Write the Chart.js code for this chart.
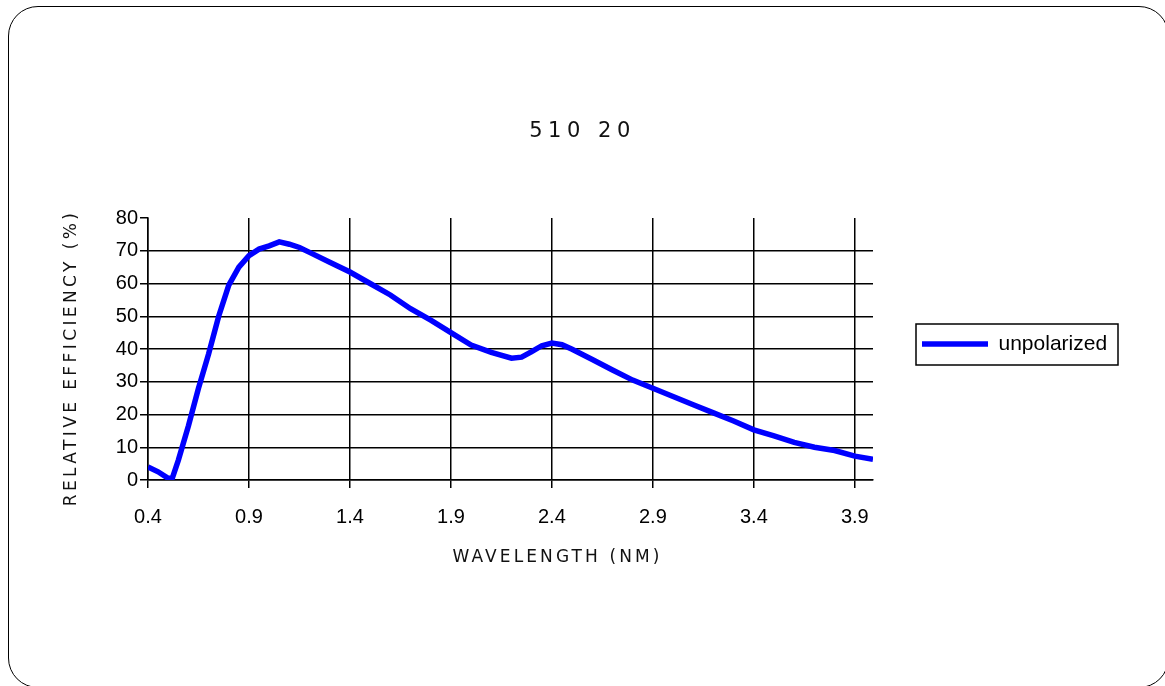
<!DOCTYPE html>
<html>
<head>
<meta charset="utf-8">
<title>510 20</title>
<script src="https://cdn.jsdelivr.net/npm/chart.js@4/dist/chart.umd.min.js"></script>
<style>
  html, body { margin: 0; padding: 0; background: #fff; overflow: hidden; }
  .frame {
    position: absolute; left: 8px; top: 6px; width: 1161px; height: 682px;
    border: 1.5px solid #000; border-radius: 30px; box-sizing: border-box;
  }
  #myChart { position: absolute; left: 0; top: 0; }
</style>
</head>
<body>
<div class="frame"></div>
<canvas id="myChart" width="1165" height="686"></canvas>
<script>
// values
const wavelength = [0.40, 0.45, 0.50, 0.52, 0.55, 0.60, 0.65, 0.70, 0.75, 0.80, 0.85, 0.90, 0.95, 1.00,
                    1.05, 1.10, 1.15, 1.20, 1.30, 1.40, 1.50, 1.60, 1.70, 1.80, 1.90, 2.00, 2.10, 2.20,
                    2.25, 2.30, 2.35, 2.40, 2.45, 2.50, 2.60, 2.70, 2.80, 2.90, 3.00, 3.10, 3.20, 3.30,
                    3.40, 3.50, 3.60, 3.70, 3.80, 3.90, 3.99];
const unpolarized = [4.0, 2.5, 0.5, 0.5, 6, 16.5, 28, 38.5, 50, 59.5, 65, 68.5, 70.5, 71.5,
                     72.7, 72, 71, 69.5, 66.5, 63.5, 60, 56.5, 52.3, 48.8, 45, 41.2, 39, 37.2,
                     37.5, 39.2, 41, 41.8, 41.3, 39.9, 36.8, 33.6, 30.5, 28, 25.5, 23, 20.5, 18,
                     15.3, 13.5, 11.5, 10, 9, 7.3, 6.3];
const xTicks = [0.4, 0.9, 1.4, 1.9, 2.4, 2.9, 3.4, 3.9];

const narrow = "'Liberation Sans Narrow', 'Arial Narrow', 'Liberation Sans', sans-serif";
const wide = "'DejaVu Sans', sans-serif";

// old excel look: spaced out titles + a boxed legend
const excelLook = {
    id: 'excelLook',
    beforeDraw(chart) {
        const ctx = chart.ctx;
        const patch = (obj, name, spacing, dx, dy, grow, after) => {
            if (!obj || obj['_p_' + name]) return;
            const orig = obj[name];
            obj[name] = function (...args) {
                ctx.save();
                ctx.letterSpacing = spacing + 'px';
                ctx.translate(dx, dy);
                this.top -= grow; this.bottom += grow;
                orig.apply(this, args);
                this.top += grow; this.bottom -= grow;
                if (after) after(this);
                ctx.restore();
            };
            obj['_p_' + name] = true;
        };
        patch(chart.titleBlock, 'draw', 5.5, 0, 0, 0);
        patch(chart.scales.x, 'drawTitle', 3.1, 47, 0, 0);
        patch(chart.scales.y, 'drawTitle', 3.4, 0, 9, 40);
        patch(chart.legend, 'draw', 0, 0, 1, 0, (lg) => {
            const hb = lg.legendHitBoxes[0];
            if (!hb) return;
            const cy = hb.top + hb.height / 2;
            ctx.strokeStyle = '#000';
            ctx.lineWidth = 1.5;
            ctx.strokeRect(hb.left - 6, cy - 20, 202, 41);
        });
    }
};

const ctx = document.getElementById('myChart').getContext('2d');
const myChart = new Chart(ctx, {
    type: 'line',
    data: {
        datasets: [{
            label: 'unpolarized',
            data: wavelength.map((w, i) => ({x: w, y: unpolarized[i]})),
            borderColor: '#0000ff',
            backgroundColor: '#0000ff',
            borderWidth: 5.5,
            pointRadius: 0,
            tension: 0,
            fill: false
        }]
    },
    options: {
        responsive: false,
        animation: false,
        devicePixelRatio: 1,
        layout: { padding: 0 },
        plugins: {
            tooltip: { enabled: false },
            title: {
                display: true,
                text: '510 20',
                color: '#111',
                font: { family: wide, size: 21, weight: 'normal' },
                padding: { top: 119.4, bottom: 73.4 }
            },
            legend: {
                position: 'right',
                labels: {
                    color: '#000',
                    font: { family: narrow, size: 21 },
                    usePointStyle: true,
                    pointStyle: 'line',
                    pointStyleWidth: 66,
                    padding: 49
                }
            }
        },
        scales: {
            x: {
                type: 'linear',
                min: 0.4,
                max: 3.99,
                afterBuildTicks: (scale) => { scale.ticks = xTicks.map(v => ({value: v})); },
                afterFit: (scale) => { scale.height = 206; },
                ticks: {
                    color: '#000',
                    autoSkip: false,
                    maxRotation: 0,
                    padding: 17,
                    font: { family: narrow, size: 20 },
                    callback: (v) => Number(v).toFixed(1)
                },
                grid: { color: '#000', tickColor: '#000', lineWidth: 1.5, tickLength: 8 },
                border: { color: '#000', width: 1.5 },
                title: {
                    display: true,
                    text: 'WAVELENGTH (NM)',
                    color: '#111',
                    font: { family: wide, size: 17 },
                    padding: { top: 0, bottom: 117.8 }
                }
            },
            y: {
                min: 0,
                max: 80,
                afterFit: (scale) => { scale.width = 148; },
                ticks: {
                    stepSize: 10,
                    color: '#000',
                    padding: 2,
                    font: { family: narrow, size: 20 }
                },
                grid: {
                    color: (c) => (c.tick && c.tick.value === 80) ? 'rgba(0,0,0,0)' : '#000',
                    tickColor: '#000',
                    lineWidth: 1.5,
                    tickLength: 8
                },
                border: { color: '#000', width: 1.5 },
                title: {
                    display: true,
                    text: 'RELATIVE EFFICIENCY (%)',
                    color: '#111',
                    font: { family: wide, size: 17 },
                    padding: { top: 61.8, bottom: 0 }
                }
            }
        }
    },
    plugins: [excelLook, {
        id: 'fixedLegend',
        beforeLayout(chart) {
            const lg = chart.legend;
            if (!lg || lg._fixed) return;
            const fit = lg.fit;
            lg.fit = function () { fit.call(this); this.width = 292; };
            lg._fixed = true;
        }
    }]
});
</script>
</body>
</html>
